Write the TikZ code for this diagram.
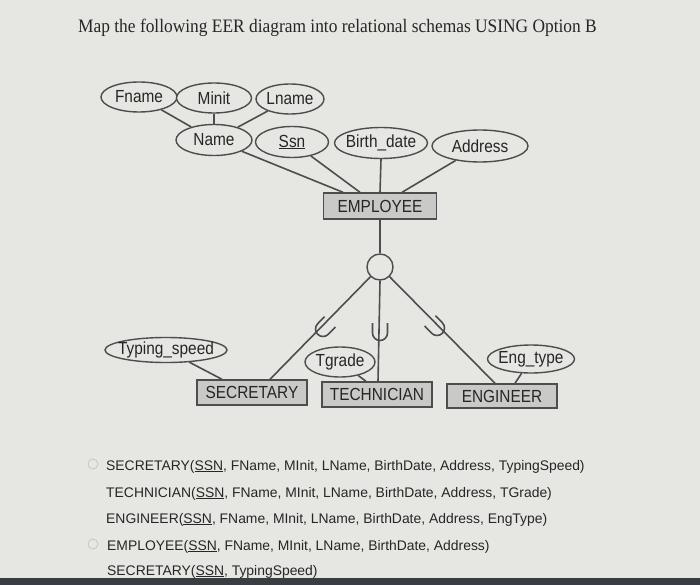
\documentclass[tikz,border=0pt]{standalone}
\usepackage{graphicx}
\usepackage{fontspec}
\setmainfont{Liberation Serif}
\setsansfont{Liberation Sans}
\usetikzlibrary{shapes.geometric}
\definecolor{bg}{HTML}{E6E6E3}
\definecolor{boxfill}{HTML}{C9C9C7}
\definecolor{ink}{HTML}{262626}
\definecolor{edge}{HTML}{4D4D4D}
\definecolor{bar}{HTML}{3A3D42}
\tikzset{
  attr/.style={ellipse, draw=edge, line width=1.4pt, fill=bg, inner sep=0pt, text=ink, font=\sffamily\fontsize{17.5}{19}\selectfont},
  ent/.style={rectangle, draw=edge, line width=1.4pt, fill=boxfill, inner sep=0pt, text=ink, font=\sffamily\fontsize{17.5}{19}\selectfont},
  conn/.style={draw=edge, line width=1.6pt},
  schema/.style={anchor=base west, inner sep=0pt, text=ink, font=\sffamily\fontsize{13.9}{15}\selectfont},
  radio/.style={circle, draw=gray!45, line width=0.8pt, minimum size=10pt, inner sep=0pt}
}
\newcommand{\zw}[1]{\makebox[0pt]{\scalebox{0.88}[1]{#1}}}
\newcommand{\cw}[1]{\scalebox{0.88}[1]{#1}}
\newcommand{\subsetmark}[2]{%
  \draw[conn, shift={#1}, rotate=#2] (-7.5pt,10pt) -- (-7.5pt,0pt) arc[start angle=180, end angle=360, radius=7.5pt] -- (7.5pt,10pt);}
\begin{document}
\begin{tikzpicture}[x=1pt,y=1pt]
\fill[bg] (0,0) rectangle (700,-585);
\useasboundingbox (0,0) rectangle (700,-585);
\fill[bar] (0,-578) rectangle (700,-585);

\node[anchor=base west, inner sep=0pt, text=ink, font=\fontsize{19}{21}\selectfont] (title) at (78,-33) {\scalebox{0.915}[1]{Map the following EER diagram into relational schemas USING Option B}};

% attributes
\node[attr, minimum width=76pt, minimum height=30pt] (fname) at (139,-97) {\zw{Fname}};
\node[attr, minimum width=75pt, minimum height=30pt] (minit) at (214,-98) {\zw{Minit}};
\node[attr, minimum width=68pt, minimum height=30pt] (lname) at (290,-99) {\zw{Lname}};
\node[attr, minimum width=76pt, minimum height=31pt] (name) at (214,-140) {\zw{Name}};
\node[attr, minimum width=73pt, minimum height=31pt] (ssn) at (292,-142) {\zw{\underline{Ssn}}};
\node[attr, minimum width=93pt, minimum height=31pt] (birth) at (381,-143) {\zw{Birth\_date}};
\node[attr, minimum width=96pt, minimum height=32pt] (addr) at (480,-146) {\zw{Address}};

\node[ent, minimum width=113pt, minimum height=26pt] (emp) at (380,-206) {\cw{EMPLOYEE}};
\node[circle, draw=edge, line width=1.4pt, fill=bg, minimum size=26pt, inner sep=0pt] (d) at (380,-267) {};

\node[attr, minimum width=122pt, minimum height=25pt] (typ) at (166,-350) {\zw{Typing\_speed}};
\node[attr, minimum width=70pt, minimum height=30pt] (tgr) at (340,-362) {\zw{Tgrade}};
\node[attr, minimum width=87pt, minimum height=28pt] (engt) at (531,-359) {\zw{Eng\_type}};

\node[ent, minimum width=110pt, minimum height=25pt] (sec) at (252,-392.5) {\cw{SECRETARY}};
\node[ent, minimum width=110pt, minimum height=25pt] (tech) at (377,-394.5) {\cw{TECHNICIAN}};
\node[ent, minimum width=110pt, minimum height=24pt] (eng) at (502,-396) {\cw{ENGINEER}};

% connectors
\draw[conn] (fname) -- (name);
\draw[conn] (minit) -- (name);
\draw[conn] (lname) -- (name);
\draw[conn] (name) -- ([xshift=-37pt]emp.north);
\draw[conn] (ssn) -- ([xshift=-20pt]emp.north);
\draw[conn] (birth.south) -- (emp.north);
\draw[conn] (addr) -- ([xshift=22pt]emp.north);
\draw[conn] (emp.south) -- (d.north);
\draw[conn] (d) -- ([xshift=18pt]sec.north);
\draw[conn] (d.south) -- ([xshift=1pt]tech.north);
\draw[conn] (d) -- ([xshift=-7pt]eng.north);
\draw[conn] (typ) -- ([xshift=-30pt]sec.north);
\draw[conn] (tgr) -- ([xshift=-11pt]tech.north);
\draw[conn] (engt) -- ([xshift=13pt]eng.north);

\subsetmark{(323,-329)}{-44}
\subsetmark{(380,-333)}{0}
\subsetmark{(437,-328)}{44}

% schemas
\node[radio] (r1) at (93,-464) {};
\node[radio] (r2) at (93,-544) {};
\node[schema] (s1) at (106,-470) {SECRETARY(\underline{SSN}, FName, MInit, LName, BirthDate, Address, TypingSpeed)};
\node[schema] (s2) at (106,-497) {TECHNICIAN(\underline{SSN}, FName, MInit, LName, BirthDate, Address, TGrade)};
\node[schema] (s3) at (106,-523) {ENGINEER(\underline{SSN}, FName, MInit, LName, BirthDate, Address, EngType)};
\node[schema] (s4) at (107,-550) {EMPLOYEE(\underline{SSN}, FName, MInit, LName, BirthDate, Address)};
\node[schema] (s5) at (107,-575) {SECRETARY(\underline{SSN}, TypingSpeed)};
\end{tikzpicture}
\end{document}
